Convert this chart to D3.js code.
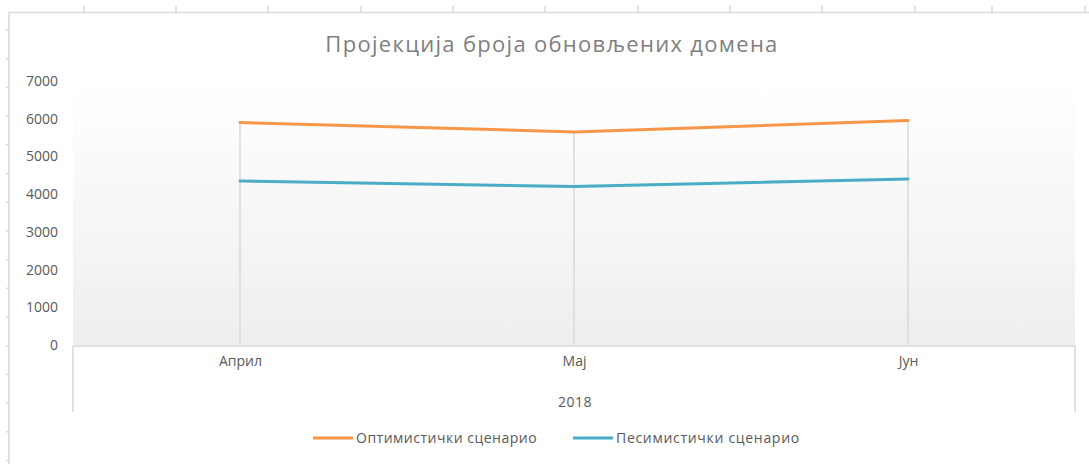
<!DOCTYPE html>
<html><head><meta charset="utf-8">
<script src="https://cdn.jsdelivr.net/npm/d3@7"></script>
<style>body{margin:0;background:#fff}svg{display:block}text{font-family:"Open Sans",sans-serif}</style>
</head><body><svg id="c" width="1089" height="464"></svg>
<script>
const title = "Пројекција броја обновљених домена";
const categories = ["Април", "Мај", "Јун"];
const groupLabel = "2018";
const seriesNames = ["Оптимистички сценарио", "Песимистички сценарио"];
const optimistic = [5900, 5650, 5950];
const pessimistic = [4350, 4200, 4400];
const yTicks = [0, 1000, 2000, 3000, 4000, 5000, 6000, 7000];
const colors = ["#f79646", "#4bacc6"];

const svg = d3.select("#c");
const W = 1089, H = 464;
const plot = {l: 73, r: 1075, t: 81, b: 345};

// spreadsheet-like frame
const frame = svg.append("g").attr("stroke", "#d9d9d9").attr("stroke-width", 1.5).attr("fill", "none");
frame.append("line").attr("x1", 9).attr("x2", W).attr("y1", 12.5).attr("y2", 12.5);
frame.append("line").attr("x1", 9).attr("x2", 9).attr("y1", 12).attr("y2", H);
[84, 176, 268, 361, 453, 545, 638, 730, 822, 915, 992, 1085].forEach(x => {
  frame.append("line").attr("x1", x).attr("x2", x).attr("y1", 6).attr("y2", 12);
});
for (let y = 30; y < H; y += 28.7) {
  frame.append("line").attr("x1", 6).attr("x2", 9).attr("y1", y).attr("y2", y);
}

const x = d3.scalePoint().domain(categories).range([240, 908]);
const y = d3.scaleLinear().domain([0, 7000]).range([plot.b, plot.t]);

// gradient plot area
const defs = svg.append("defs");
const g = defs.append("linearGradient").attr("id", "bg").attr("x1", 0).attr("x2", 0).attr("y1", 0).attr("y2", 1);
g.append("stop").attr("offset", "0%").attr("stop-color", "#ffffff");
g.append("stop").attr("offset", "100%").attr("stop-color", "#eeeeee");
svg.append("rect").attr("x", plot.l).attr("y", y(7000)).attr("width", plot.r - plot.l).attr("height", plot.b - y(7000)).attr("fill", "url(#bg)");

// title
svg.append("text").attr("x", 552).attr("y", 52).attr("text-anchor", "middle")
  .attr("font-size", 22).attr("letter-spacing", 1.3).attr("fill", "#7f7f7f").text(title);

// y axis
const yAxis = d3.axisLeft(y).tickValues(yTicks).tickSize(0).tickPadding(0).tickFormat(d3.format("d"));
const ya = svg.append("g").attr("transform", "translate(58,0)").call(yAxis);
ya.select(".domain").remove();
ya.selectAll("text").attr("font-size", 14).attr("fill", "#595959").attr("font-family", "Open Sans");

// drop lines
const maxVals = categories.map((c, i) => Math.max(optimistic[i], pessimistic[i]));
svg.append("g").selectAll("line").data(categories).join("line")
  .attr("x1", d => x(d)).attr("x2", d => x(d))
  .attr("y1", (d, i) => y(maxVals[i])).attr("y2", plot.b)
  .attr("stroke", "#d9d9d9").attr("stroke-width", 1.5);

// x axis box
const xa = svg.append("g").attr("stroke", "#d9d9d9").attr("stroke-width", 1.5);
xa.append("line").attr("x1", plot.l).attr("x2", plot.r).attr("y1", plot.b + 1).attr("y2", plot.b + 1);
xa.append("line").attr("x1", plot.l).attr("x2", plot.l).attr("y1", plot.b + 1).attr("y2", 412);
xa.append("line").attr("x1", plot.r).attr("x2", plot.r).attr("y1", plot.b + 1).attr("y2", 412);

const xAxis = d3.axisBottom(x).tickSize(0).tickPadding(0);
const xg = svg.append("g").attr("transform", `translate(0,${plot.b + 8})`).call(xAxis);
xg.select(".domain").remove();
xg.selectAll("text").attr("font-size", 14).attr("fill", "#595959").attr("font-family", "Open Sans").attr("dy", "0.9em");
svg.append("text").attr("x", x("Мај") + 1).attr("y", 407).attr("text-anchor", "middle")
  .attr("font-size", 14).attr("letter-spacing", 0.5).attr("fill", "#595959").text(groupLabel);

// lines
const line = d3.line().x((d, i) => x(categories[i])).y(d => y(d));
[optimistic, pessimistic].forEach((s, k) => {
  svg.append("path").datum(s).attr("d", line).attr("fill", "none")
    .attr("stroke", colors[k]).attr("stroke-width", 3).attr("stroke-linecap", "round");
});

// legend
const legendX = [313, 573];
const legendSpacing = [0.5, 0.7];
seriesNames.forEach((n, k) => {
  svg.append("line").attr("x1", legendX[k]).attr("x2", legendX[k] + 40).attr("y1", 438).attr("y2", 438)
    .attr("stroke", colors[k]).attr("stroke-width", 3);
  svg.append("text").attr("x", legendX[k] + 43).attr("y", 443).attr("font-size", 14)
    .attr("letter-spacing", legendSpacing[k]).attr("fill", "#595959").text(n);
});
</script></body></html>
